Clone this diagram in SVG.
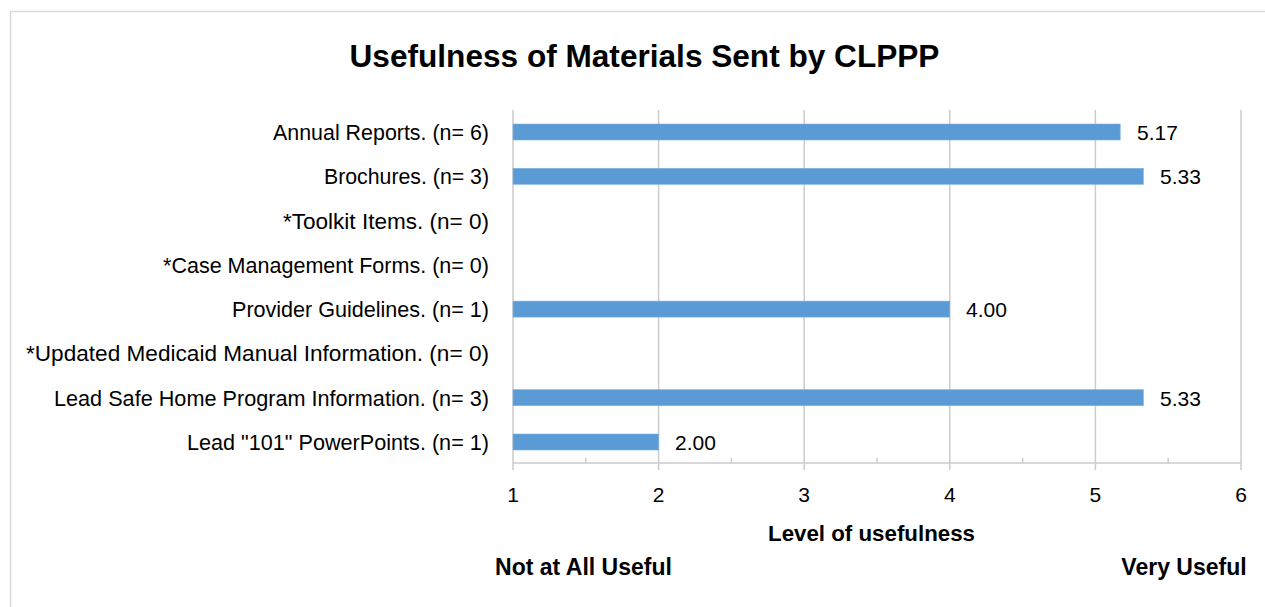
<svg xmlns="http://www.w3.org/2000/svg" width="1265" height="607" viewBox="0 0 1265 607">
<style>
.t{font-family:"Liberation Sans",Arial,sans-serif;fill:#000}
.lbl{font-size:21.4px;text-anchor:end}
.val{font-size:21px}
.tick{font-size:21px;text-anchor:middle}
.b{font-weight:bold}
.grid{stroke:#CCCCCC;stroke-width:1.5;fill:none}
.bar{fill:#5B9BD5;stroke:#7FB2E0;stroke-width:0.6}
</style>
<rect x="0" y="0" width="1265" height="607" fill="#FFFFFF"/>
<rect x="10.5" y="11.5" width="1262" height="610" fill="none" stroke="#D9D9D9" stroke-width="1.5"/>
<text class="t b" x="644.5" y="67" font-size="31.6" text-anchor="middle">Usefulness of Materials Sent by CLPPP</text>
<g id="axes">
<path class="grid" d="M513,110V470M658.6,110V470M804.2,110V470M949.8,110V470M1095.4,110V470M1241,110V470"/>
<path class="grid" d="M513,463H1241M585.8,458V463M731.4,458V463M877,458V463M1022.6,458V463M1168.2,458V463"/>
<text class="t tick" x="513" y="502">1</text>
<text class="t tick" x="658.6" y="502">2</text>
<text class="t tick" x="804.2" y="502">3</text>
<text class="t tick" x="949.8" y="502">4</text>
<text class="t tick" x="1095.4" y="502">5</text>
<text class="t tick" x="1241" y="502">6</text>
<text class="t b" x="871.5" y="541" font-size="22.3" text-anchor="middle">Level of usefulness</text>
<text class="t b" x="583.5" y="575" font-size="23" text-anchor="middle">Not at All Useful</text>
<text class="t b" x="1184" y="575" font-size="23" text-anchor="middle">Very Useful</text>
</g>
<g id="row1"><text class="t lbl" x="489" y="140" textLength="216" lengthAdjust="spacingAndGlyphs">Annual Reports. (n= 6)</text><rect class="bar" x="513" y="124" width="607.2" height="16"/><text class="t val" x="1137" y="140">5.17</text></g>
<g id="row2"><text class="t lbl" x="489" y="184.3" textLength="165" lengthAdjust="spacingAndGlyphs">Brochures. (n= 3)</text><rect class="bar" x="513" y="168.3" width="630.4" height="16"/><text class="t val" x="1160" y="184.3">5.33</text></g>
<g id="row3"><text class="t lbl" x="489" y="228.6" textLength="206" lengthAdjust="spacingAndGlyphs">*Toolkit Items. (n= 0)</text></g>
<g id="row4"><text class="t lbl" x="489" y="272.9" textLength="326" lengthAdjust="spacingAndGlyphs">*Case Management Forms. (n= 0)</text></g>
<g id="row5"><text class="t lbl" x="489" y="317.1" textLength="257" lengthAdjust="spacingAndGlyphs">Provider Guidelines. (n= 1)</text><rect class="bar" x="513" y="301.1" width="436.8" height="16"/><text class="t val" x="966" y="317.1">4.00</text></g>
<g id="row6"><text class="t lbl" x="489" y="361.4" textLength="463" lengthAdjust="spacingAndGlyphs">*Updated Medicaid Manual Information. (n= 0)</text></g>
<g id="row7"><text class="t lbl" x="489" y="405.7" textLength="435" lengthAdjust="spacingAndGlyphs">Lead Safe Home Program Information. (n= 3)</text><rect class="bar" x="513" y="389.7" width="630.4" height="16"/><text class="t val" x="1160" y="405.7">5.33</text></g>
<g id="row8"><text class="t lbl" x="489" y="450" textLength="302" lengthAdjust="spacingAndGlyphs">Lead "101" PowerPoints. (n= 1)</text><rect class="bar" x="513" y="434" width="145.6" height="16"/><text class="t val" x="675" y="450">2.00</text></g>
</svg>
